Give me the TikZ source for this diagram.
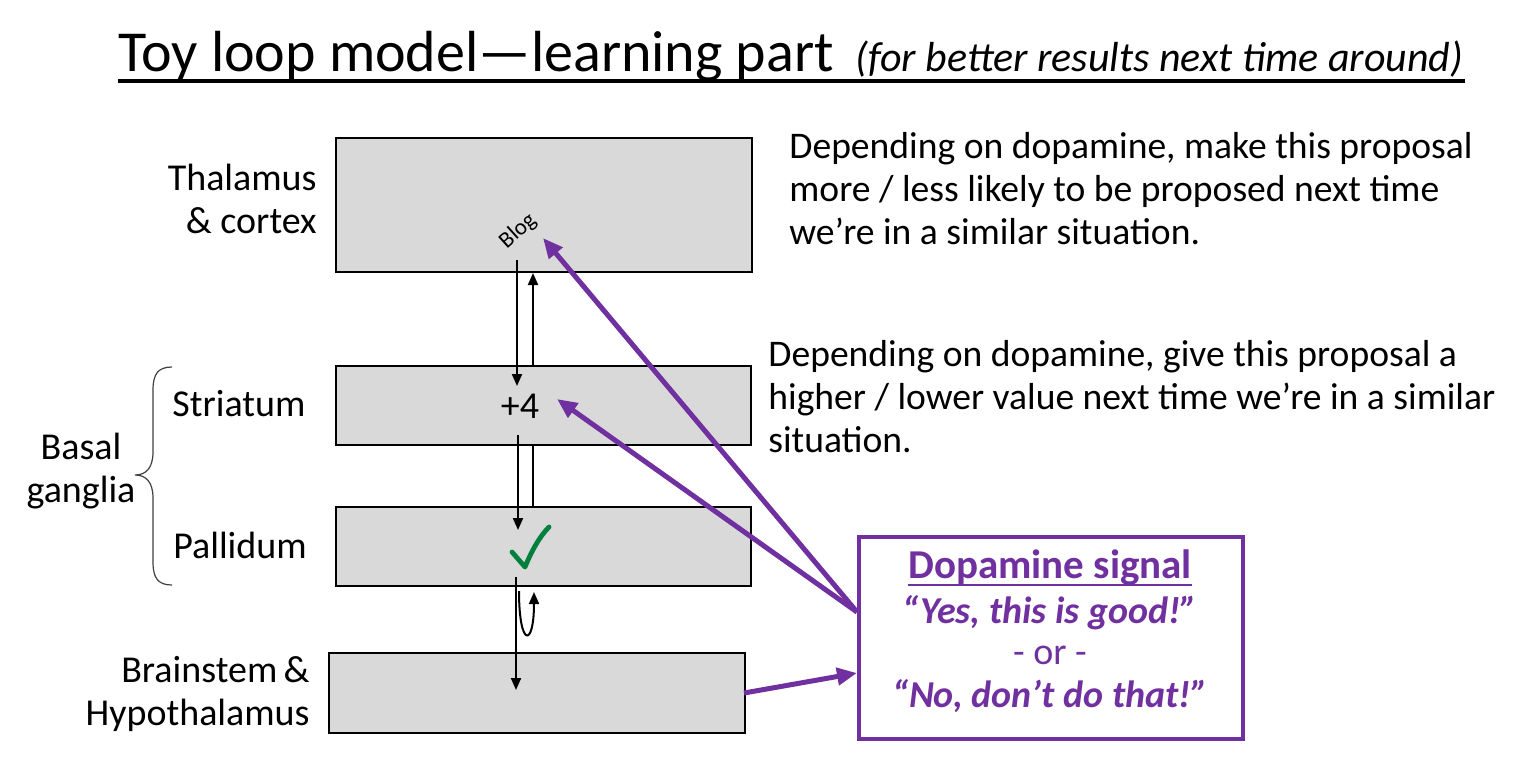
\documentclass[tikz,border=0pt]{standalone}
\usepackage{fontspec}
\setmainfont{Carlito}
\usetikzlibrary{arrows.meta}
\definecolor{dpurple}{RGB}{112,48,160}
\definecolor{boxgray}{RGB}{217,217,217}
\definecolor{chkgreen}{RGB}{0,128,60}
\tikzset{
  region/.style={draw=black, line width=1pt, fill=boxgray, inner sep=0pt, anchor=north west},
  body/.style={font=\fontsize{19}{21.5}\selectfont, inner sep=0pt},
  note/.style={font=\fontsize{18.8}{21.5}\selectfont, inner sep=0pt, anchor=base west, align=left},
  sig/.style={-{Triangle[length=6pt,width=5pt]}, line width=1pt},
  plainsig/.style={line width=1pt},
  dop/.style={-{Triangle[length=10pt,width=8.5pt]}, draw=dpurple, line width=2.5pt},
  brace/.style={draw=black!75, line width=0.6pt},
  chk/.style={draw=chkgreen, line width=2.4pt, line cap=round, line join=round},
  quote/.style={inner sep=0pt, anchor=base, text=dpurple, font=\fontsize{19}{21.5}\selectfont\bfseries\itshape},
}
\begin{document}
\begin{tikzpicture}[x=0.5pt, y=-0.5pt]
\useasboundingbox (0,0) rectangle (1525,762);
% title
\node (title) [anchor=base west, inner sep=0pt, font=\fontsize{29}{34}\selectfont] at (118,71) {Toy loop model—learning part};
\node (subtitle) [anchor=base west, inner sep=0pt, font=\fontsize{21}{25}\selectfont\itshape] at (855,71) {(for better results next time around)};
\coordinate (ulA) at (118,81);
\coordinate (ulB) at (1465,81);
\draw[line width=1.8pt] (ulA) -- (ulB);
% boxes
\node (th) [region, minimum width=208pt, minimum height=67pt] at (335,137) {};
\node (st) [region, minimum width=207.5pt, minimum height=39.5pt] at (335,365) {};
\node (pa) [region, minimum width=207.5pt, minimum height=39.5pt] at (335,506) {};
\node (bs) [region, minimum width=208pt, minimum height=40pt] at (328,652) {};
% left labels
\node (lth) [body, anchor=base east, align=right] at (317,233) {Thalamus\\\& cortex};
\node (lst) [body, anchor=base] at (239,416) {Striatum};
\node (lpa) [body, anchor=base] at (240,558) {Pallidum};
\node (lbs) [body, anchor=base east, align=right] at (310,725) {Brainstem\,\&\\Hypothalamus};
\node (lbg) [body, anchor=base, align=center] at (81,502) {Basal\\ganglia};
% brace
\draw[brace] (172,367) .. controls (158,367) and (153,374) .. (153,390) -- (153,452) .. controls (153,468) and (146,475) .. (135,475)
  .. controls (146,475) and (153,482) .. (153,498) -- (153,562) .. controls (153,578) and (158,585) .. (172,585);
% box contents
\node (blog) [inner sep=0pt, font=\fontsize{11.5}{13}\selectfont, rotate=42] at (518,231) {Blog};
\node (plus) [body, anchor=base] at (520,418) {+4};
\draw[chk] (512,552) .. controls (518,559) .. (525,567) .. controls (532,550) and (540,536) .. (549,527);
% signal arrows
\coordinate (a1s) at (517,260);
\coordinate (a1e) at (517,386);
\coordinate (a2s) at (533,365);
\coordinate (a3s) at (518,435);
\coordinate (a3e) at (518,530);
\coordinate (a4s) at (533,444);
\coordinate (a4e) at (533,506);
\coordinate (a5s) at (516,577);
\coordinate (a5e) at (516,690);
\coordinate (lps) at (519,591);
\coordinate (lpe) at (534,592);
\draw[sig] (a1s) -- (a1e);
\draw[sig] (a2s) -- (a2s |- th.south);
\draw[sig] (a3s) -- (a3e);
\draw[plainsig] (a4s) -- (a4e);
\draw[sig] (a5s) -- (a5e);
\draw[sig] (lps) .. controls (519,648) and (534,648) .. (lpe);
% right texts
\node (t1) [note] at (789,244) {Depending on dopamine, make this proposal\\more / less likely to be proposed next time\\we’re in a similar situation.};
\node (t2) [note] at (768,452) {Depending on dopamine, give this proposal a\\higher / lower value next time we’re in a similar\\situation.};
% dopamine box
\node (dbox) [draw=dpurple, line width=2pt, anchor=north west, minimum width=192pt, minimum height=101pt, inner sep=0pt] at (857,535) {};
\node (dtitle) [inner sep=0pt, anchor=base, text=dpurple, font=\fontsize{20.5}{24}\selectfont\bfseries] at (1050,578) {Dopamine signal};
\draw[dpurple, line width=1.2pt] ([yshift=-3.5pt]dtitle.base west) -- ([yshift=-3.5pt]dtitle.base east);
\node (dyes) [quote] at (1050,623) {“Yes, this is good!”};
\node (dor) [body, anchor=base, text=dpurple] at (1050,664) {- or -};
\node (dno) [quote] at (1050,707) {“No, don’t do that!”};
% dopamine arrows
\coordinate (dsrc) at (857,612);
\coordinate (bsout) at (744,693);
\coordinate (dtgt) at (857,673);
\draw[dop] (dsrc) -- (543,238);
\draw[dop] (dsrc) -- (557,399);
\draw[dop] (bsout) -- (dtgt);
\end{tikzpicture}
\end{document}
